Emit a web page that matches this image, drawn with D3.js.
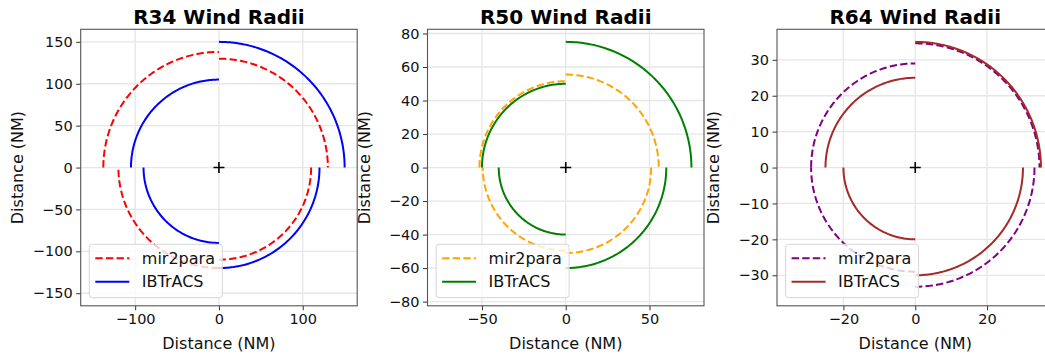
<!DOCTYPE html>
<html>
<head>
<meta charset="utf-8">
<script src="https://cdn.jsdelivr.net/npm/d3@7"></script>
<style>
  html, body { margin: 0; padding: 0; background: #fff; overflow: hidden; }
  svg { display: block; font-family: "DejaVu Sans", sans-serif; }
</style>
</head>
<body>
<svg id="chart" width="1045" height="356"></svg>
<script>
// Quadrant order: NE, SE, SW, NW (radii in NM)
const quadrants = ["NE", "SE", "SW", "NW"];

const titles = ["R34 Wind Radii", "R50 Wind Radii", "R64 Wind Radii"];
const seriesNames = ["mir2para", "IBTrACS"];

const r34Mir2para = [130, 110, 120, 138];
const r34IBTrACS = [150, 120, 90, 105];

const r50Mir2para = [55.5, 51, 49.5, 51.5];
const r50IBTrACS = [75, 60, 40, 50];

const r64Mir2para = [34.6, 33.2, 29, 29];
const r64IBTrACS = [35, 30, 20, 25];

const r34Ticks = [-150, -100, -50, 0, 50, 100, 150];
const r34XTicks = [-100, 0, 100];
const r50Ticks = [-80, -60, -40, -20, 0, 20, 40, 60, 80];
const r50XTicks = [-50, 0, 50];
const r64Ticks = [-30, -20, -10, 0, 10, 20, 30];
const r64XTicks = [-20, 0, 20];

const mirColors = ["red", "orange", "purple"];
const ibColors = ["blue", "green", "brown"];

const panels = [
  { title: titles[0], mir: r34Mir2para, ib: r34IBTrACS, yTicks: r34Ticks, xTicks: r34XTicks, lim: 165, mirColor: mirColors[0], ibColor: ibColors[0], left: 80.7 },
  { title: titles[1], mir: r50Mir2para, ib: r50IBTrACS, yTicks: r50Ticks, xTicks: r50XTicks, lim: 82.5, mirColor: mirColors[1], ibColor: ibColors[1], left: 427.5 },
  { title: titles[2], mir: r64Mir2para, ib: r64IBTrACS, yTicks: r64Ticks, xTicks: r64XTicks, lim: 38.5, mirColor: mirColors[2], ibColor: ibColors[2], left: 777 }
];

const plotTop = 29.3, size = 276.5;
const svg = d3.select("#chart");
const fmt = d => (d < 0 ? "\u2212" + Math.abs(d) : String(d));

// angle ranges (degrees clockwise from north) for each quadrant
const quadAngles = { NE: [0, 90], SE: [90, 180], SW: [180, 270], NW: [270, 360] };

panels.forEach(p => {
  const g = svg.append("g").attr("transform", `translate(${p.left},${plotTop})`);
  const x = d3.scaleLinear().domain([-p.lim, p.lim]).range([0, size]);
  const y = d3.scaleLinear().domain([-p.lim, p.lim]).range([size, 0]);

  // grid
  const grid = g.append("g").attr("stroke", "#e6e6e6").attr("stroke-width", 1.3);
  p.yTicks.forEach(t => grid.append("line").attr("x1", 0).attr("x2", size).attr("y1", y(t)).attr("y2", y(t)));
  p.xTicks.forEach(t => grid.append("line").attr("y1", 0).attr("y2", size).attr("x1", x(t)).attr("x2", x(t)));

  // arcs
  const line = d3.line().x(d => x(d[0])).y(d => y(d[1]));
  function arcPoints(r, q) {
    const [a0, a1] = quadAngles[q];
    const pts = [];
    for (let i = 0; i <= 90; i++) {
      const a = (a0 + (a1 - a0) * i / 90) * Math.PI / 180;
      pts.push([r * Math.sin(a), r * Math.cos(a)]);
    }
    return pts;
  }
  const arcs = g.append("g").attr("fill", "none");
  quadrants.forEach((q, i) => {
    arcs.append("path").attr("d", line(arcPoints(p.mir[i], q)))
      .attr("stroke", p.mirColor).attr("stroke-width", 2)
      .attr("stroke-dasharray", "7.4,3.2");
  });
  quadrants.forEach((q, i) => {
    arcs.append("path").attr("d", line(arcPoints(p.ib[i], q)))
      .attr("stroke", p.ibColor).attr("stroke-width", 2);
  });

  // center marker
  const cx = x(0), cy = y(0);
  g.append("path").attr("d", `M${cx - 5.5},${cy}H${cx + 5.5}M${cx},${cy - 5.5}V${cy + 5.5}`)
    .attr("stroke", "#000").attr("stroke-width", 1.6);

  // legend
  const lg = g.append("g").attr("transform", `translate(8.6,${244.3 - plotTop})`);
  lg.append("rect").attr("width", 133).attr("height", 53.4).attr("rx", 3)
    .attr("fill", "#fff").attr("fill-opacity", 0.8).attr("stroke", "#d6d6d6").attr("stroke-width", 1);
  [[p.mirColor, "7.4,3.2", seriesNames[0]], [p.ibColor, null, seriesNames[1]]].forEach((s, i) => {
    const ly = 14 + i * 23.4;
    lg.append("line").attr("x1", 6).attr("x2", 40).attr("y1", ly).attr("y2", ly)
      .attr("stroke", s[0]).attr("stroke-width", 2).attr("stroke-dasharray", s[1]);
    lg.append("text").attr("x", 52.5).attr("y", ly).attr("dy", "0.36em")
      .attr("font-size", 16).attr("fill", "#111").text(s[2]);
  });

  // axes
  const yAxis = d3.axisLeft(y).tickValues(p.yTicks).tickFormat(fmt).tickSize(4.5).tickPadding(3.5);
  const xAxis = d3.axisBottom(x).tickValues(p.xTicks).tickFormat(fmt).tickSize(4.5).tickPadding(3.5);
  const ya = g.append("g").call(yAxis);
  const xa = g.append("g").attr("transform", `translate(0,${size})`).call(xAxis);
  [ya, xa].forEach(a => {
    a.select(".domain").remove();
    a.selectAll("line").attr("stroke", "#333").attr("stroke-width", 1);
    a.selectAll("text").attr("font-size", 14.5).attr("fill", "#111").attr("font-family", "DejaVu Sans, sans-serif");
  });

  // spines
  g.append("rect").attr("width", size).attr("height", size).attr("fill", "none")
    .attr("stroke", "#555").attr("stroke-width", 1.1);

  // labels
  g.append("text").attr("x", size / 2).attr("y", -5.5).attr("text-anchor", "middle")
    .attr("font-size", 20).attr("font-weight", "bold").attr("fill", "#000").text(p.title);
  g.append("text").attr("x", size / 2).attr("y", size + 43.5).attr("text-anchor", "middle")
    .attr("font-size", 16).attr("fill", "#111").text("Distance (NM)");
  g.append("text").attr("transform", `translate(-63.5,${size / 2}) rotate(-90)`)
    .attr("text-anchor", "middle").attr("dy", "0.36em")
    .attr("font-size", 16).attr("fill", "#111").text("Distance (NM)");
});
</script>
</body>
</html>
